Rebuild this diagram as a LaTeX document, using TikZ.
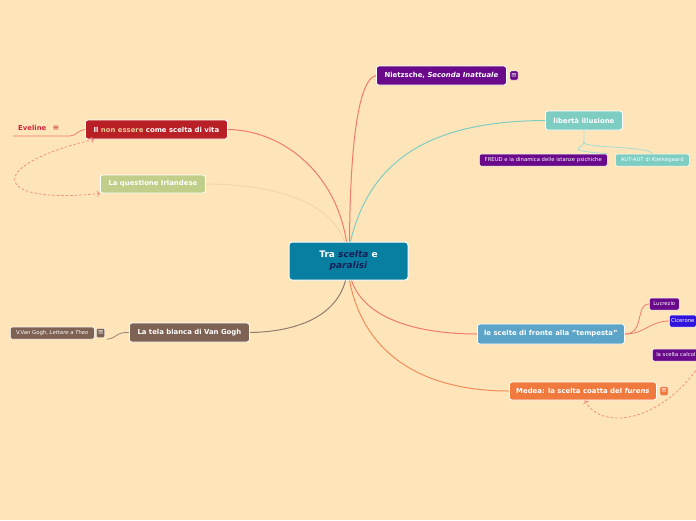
\documentclass[tikz,border=0pt]{standalone}
\usepackage{fontspec}
\setmainfont{DejaVu Sans}
\usetikzlibrary{arrows.meta, positioning, calc}
\definecolor{bgpeach}{RGB}{254,229,185}
\definecolor{centreteal}{RGB}{8,127,160}
\definecolor{navyink}{RGB}{22,32,88}
\definecolor{darkpurple}{RGB}{106,10,138}
\definecolor{libteal}{RGB}{126,205,194}
\definecolor{nonred}{RGB}{185,32,38}
\definecolor{irishgreen}{RGB}{191,206,137}
\definecolor{goghbrown}{RGB}{126,98,84}
\definecolor{stormblue}{RGB}{92,164,200}
\definecolor{ciceroblue}{RGB}{48,20,222}
\definecolor{medeaorange}{RGB}{240,121,62}
\definecolor{salmonline}{RGB}{240,122,108}
\definecolor{tanline}{RGB}{242,214,166}
\definecolor{nonessere}{RGB}{236,200,150}
\definecolor{evered}{RGB}{205,40,60}

\begin{document}
\begin{tikzpicture}[x=1pt, y=-1pt, node distance=2pt,
  topic/.style={draw=white, line width=0.8pt, rounded corners=2.5pt, text=white, font=\bfseries\fontsize{6.9}{8}\selectfont, inner sep=0pt, minimum height=19pt, anchor=west},
  sub/.style={draw=white, line width=0.5pt, rounded corners=1.5pt, text=white, font=\fontsize{5.3}{6}\selectfont, inner sep=0pt, minimum height=12pt, anchor=west},
  noteicon/.style={draw=white, line width=0.4pt, rounded corners=1pt, text=white, font=\fontsize{7}{7}\selectfont, minimum width=8pt, minimum height=9pt, inner sep=0pt},
  branch/.style={line width=1pt},
  twig/.style={line width=0.8pt},
  rel/.style={salmonline!85, line width=0.8pt, dash pattern=on 2.5pt off 2pt}]
\useasboundingbox (0,0) rectangle (696,520);
\fill[bgpeach] (0,0) rectangle (696,520);
\clip (0,0) rectangle (696,520);

% main topic
\node (centre) [draw=white, line width=1pt, rounded corners=3pt, fill=centreteal, text=white, font=\bfseries\fontsize{9}{11}\selectfont, align=center, minimum width=119pt, minimum height=38pt, inner sep=0pt] at (348.5,261) {Tra \textcolor{navyink}{\itshape scelta} e\\\textcolor{navyink}{\itshape paralisi}};

% upper branches
\node (nietzsche) [topic, fill=darkpurple, minimum width=130pt] at (376,75.5) {Nietzsche, \textit{Seconda Inattuale}};
\node (nietzscheicon) [noteicon, fill=darkpurple, right=3pt of nietzsche] {≡};
\node (liberta) [topic, fill=libteal, minimum width=77pt] at (545,120.5) {libertà illusione};
\node (freud) [sub, fill=darkpurple, minimum width=128pt] at (479,160) {FREUD e la dinamica delle istanze psichiche};
\node (autaut) [sub, fill=libteal, minimum width=74pt] at (615,160) {AUT-AUT di Kierkegaard};
\node (nonesse) [topic, fill=nonred, minimum width=142pt] at (85,129.5) {Il \textcolor{nonessere}{non essere} come scelta di vita};
\node (eveline) [text=evered, font=\bfseries\fontsize{6.9}{8}\selectfont, inner sep=0pt, anchor=west] at (18,128) {Eveline};
\node (eveicon) [text=evered, font=\fontsize{8}{8}\selectfont, inner sep=0pt] at (56,128) {≡};
\coordinate (eveend) at (13,136);
\coordinate (evejoin) at (70,136);
\node (irish) [topic, fill=irishgreen, minimum width=105pt, minimum height=18pt] at (100,184) {La questione Irlandese};

% lower branches
\node (tela) [topic, fill=goghbrown, minimum width=120pt] at (129,332.5) {La tela bianca di Van Gogh};
\node (lettere) [sub, fill=goghbrown, minimum width=84pt] at (10,333) {V.Van Gogh, \textit{Lettere a Theo}};
\node (lettereicon) [noteicon, fill=goghbrown, right=2pt of lettere] {≡};
\node (tempesta) [topic, fill=stormblue, minimum width=147pt, minimum height=20pt] at (477,334) {le scelte di fronte alla "tempesta"};
\node (lucrezio) [sub, fill=darkpurple, minimum width=30pt] at (649,304) {Lucrezio};
\node (cicerone) [sub, fill=ciceroblue, minimum width=27pt] at (669,321) {Cicerone};
\node (calcol) [sub, fill=darkpurple, minimum width=60pt, align=left, text width=56pt] at (652,355) {\hspace*{2pt}la scelta calcol};
\node (medea) [topic, fill=medeaorange, minimum width=147pt, minimum height=18pt] at (509,391) {Medea: la scelta coatta del \textit{furens}};
\node (medeaicon) [noteicon, fill=medeaorange, right=3pt of medea] {≡};

% connectors
\draw[branch, salmonline] ([xshift=1pt]centre.north) .. controls (350,170) and (355,80) .. (nietzsche.west);
\draw[branch, salmonline] ([xshift=-2pt]centre.north) .. controls (335,170) and (280,130) .. (nonesse.east);
\draw[branch, tanline] ([xshift=-4pt]centre.north) .. controls (330,200) and (270,184) .. (irish.east);
\draw[branch, libteal] ([xshift=2pt]centre.north) .. controls (370,160) and (430,121) .. (liberta.west);
\draw[twig, libteal!70] (liberta.south) -- ++(0,12) .. controls ++(0,6) and (560,150) .. (freud.north east);
\draw[twig, libteal!70] (liberta.south) ++(0,12) .. controls ++(0,6) and (650,146) .. (autaut.north);
\draw[twig, salmonline] (nonesse.west) .. controls (78,130) and (76,136) .. (evejoin) -- (eveend);
\draw[branch, goghbrown!85] ([xshift=-3pt]centre.south) .. controls (335,320) and (290,332) .. (tela.east);
\draw[twig, goghbrown!80] (tela.west) .. controls (115,332) and (118,338) .. ([xshift=2pt]lettereicon.east |- lettere.south);
\draw[branch, salmonline] ([xshift=3pt]centre.south) .. controls (365,320) and (420,334) .. (tempesta.west);
\draw[branch, medeaorange!85] ([xshift=1pt]centre.south) .. controls (365,360) and (430,391) .. (medea.west);
\draw[twig, salmonline] (tempesta.east) .. controls (645,334) and (635,304) .. (lucrezio.west);
\draw[twig, salmonline] (tempesta.east) .. controls (645,334) and (650,321) .. (cicerone.west);

% relations
\draw[rel, {To[length=3pt]}-{To[length=3pt]}] ([xshift=9pt]nonesse.south west) .. controls (-15,165) and (-10,205) .. (irish.south west);
\draw[rel, {To[length=3pt]}-] ([xshift=2pt]medea.south) .. controls (600,430) and (660,425) .. (702,362);
\end{tikzpicture}
\end{document}
